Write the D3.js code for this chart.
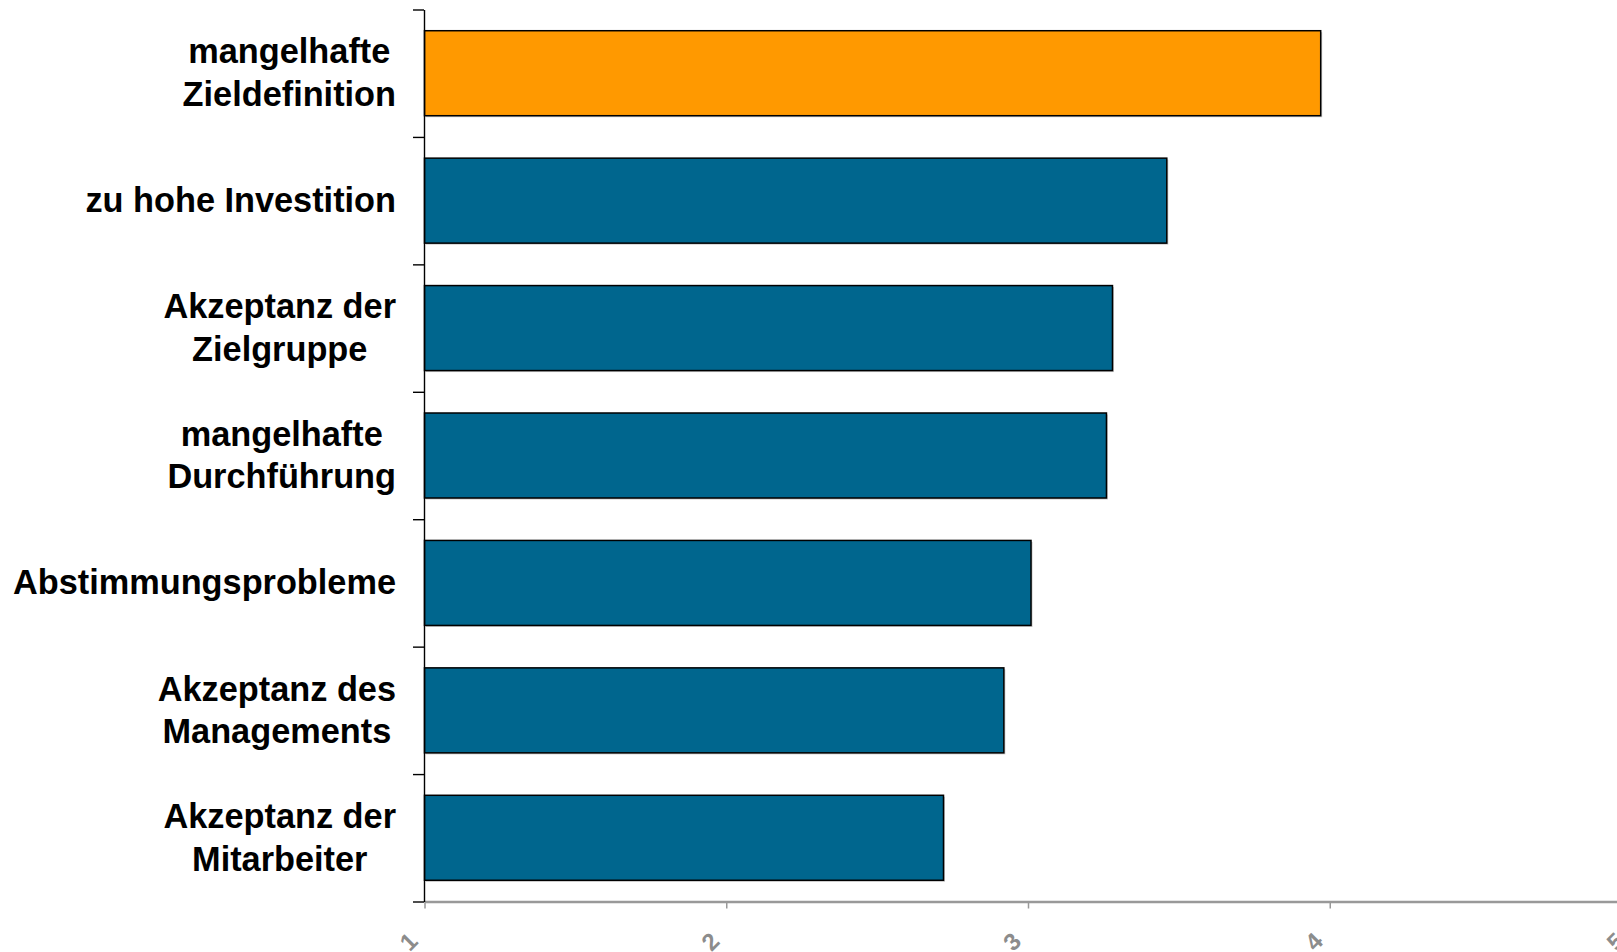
<!DOCTYPE html>
<html>
<head>
<meta charset="utf-8">
<script src="https://cdn.jsdelivr.net/npm/d3@7"></script>
<style>
  html, body { margin: 0; padding: 0; background: #fff; overflow: hidden; }
  svg { display: block; }
  .cat { font-family: "Liberation Sans", Arial, sans-serif; font-weight: bold; font-size: 34.3px; fill: #000; }
  .tick-label { font-family: "Liberation Sans", Arial, sans-serif; font-weight: bold; font-size: 24px; fill: #8c8c8c; }
</style>
</head>
<body>
<svg id="chart" width="1617" height="952"></svg>
<script>
// Reasons for project failure, mean rating on a 1–5 scale
const categories = [
  ["mangelhafte", "Zieldefinition"],
  ["zu hohe Investition"],
  ["Akzeptanz der", "Zielgruppe"],
  ["mangelhafte", "Durchführung"],
  ["Abstimmungsprobleme"],
  ["Akzeptanz des", "Managements"],
  ["Akzeptanz der", "Mitarbeiter"]
];
const values = [3.97, 3.46, 3.28, 3.26, 3.01, 2.92, 2.72];
const highlight = [true, false, false, false, false, false, false];
const xTicks = [1, 2, 3, 4, 5];

const plotLeft = 424.5, plotRight = 1631.5, plotTop = 9.5, plotBottom = 901.5;

const svg = d3.select("#chart");

const ids = d3.range(categories.length);
const y = d3.scaleBand()
  .domain(ids)
  .range([plotTop, plotBottom])
  .paddingInner(0.333)
  .paddingOuter(0.1665);

const x = d3.scaleLinear().domain([1, 5]).range([plotLeft, plotRight]);

// band boundaries for the category axis ticks
const yEdges = d3.scaleLinear().domain([0, categories.length]).range([plotTop, plotBottom]);

// bars: soft shadow then the filled bar
const bars = svg.append("g");
bars.selectAll("rect.shadow")
  .data(ids)
  .join("rect")
  .attr("class", "shadow")
  .attr("x", x(1) + 1.5)
  .attr("y", i => y(i) + 1.5)
  .attr("width", i => x(values[i]) - x(1))
  .attr("height", y.bandwidth())
  .attr("fill", "#c8c8c8");

bars.selectAll("rect.bar")
  .data(ids)
  .join("rect")
  .attr("class", "bar")
  .attr("x", x(1))
  .attr("y", i => y(i))
  .attr("width", i => x(values[i]) - x(1))
  .attr("height", y.bandwidth())
  .attr("fill", i => highlight[i] ? "#FF9900" : "#00668E")
  .attr("stroke", "#000")
  .attr("stroke-width", 1.5);

// value axis along the bottom
const xAxis = svg.append("g")
  .attr("transform", `translate(0,${plotBottom})`)
  .call(d3.axisBottom(x).tickValues(xTicks).tickSize(7).tickSizeOuter(0).tickFormat(""));
xAxis.select(".domain").attr("stroke", "#999").attr("stroke-width", 2.4);
xAxis.selectAll(".tick line").attr("stroke", "#999").attr("stroke-width", 1.5);

svg.append("g")
  .selectAll("text")
  .data(xTicks)
  .join("text")
  .attr("class", "tick-label")
  .attr("text-anchor", "middle")
  .attr("dy", "0.35em")
  .attr("transform", d => `translate(${x(d) - 16},${plotBottom + 40}) rotate(-45)`)
  .text(d => d);

// category axis
const yAxis = svg.append("g")
  .attr("transform", `translate(${plotLeft - 0.5},0)`)
  .call(d3.axisLeft(yEdges).tickValues(d3.range(categories.length + 1)).tickSize(11).tickSizeOuter(0).tickFormat(""));
yAxis.select(".domain").attr("stroke", "#000").attr("stroke-width", 1.4);
yAxis.selectAll(".tick line").attr("stroke", "#000").attr("stroke-width", 1.4);

// category labels, centred line by line, block right-aligned to the axis
const labelRight = 396;
const lineGap = 42.7;
const labels = svg.append("g");
ids.forEach(i => {
  const lines = categories[i];
  const cy = y(i) + y.bandwidth() / 2 + 11.5;
  const t = labels.append("text").attr("class", "cat");
  const spans = lines.map((ln, k) => t.append("tspan")
    .attr("y", cy + (k - (lines.length - 1) / 2) * lineGap)
    .text(ln));
  const maxW = d3.max(spans, s => s.node().getComputedTextLength());
  const cx = labelRight - maxW / 2;
  spans.forEach(s => s.attr("x", cx).attr("text-anchor", "middle"));
});
</script>
</body>
</html>
